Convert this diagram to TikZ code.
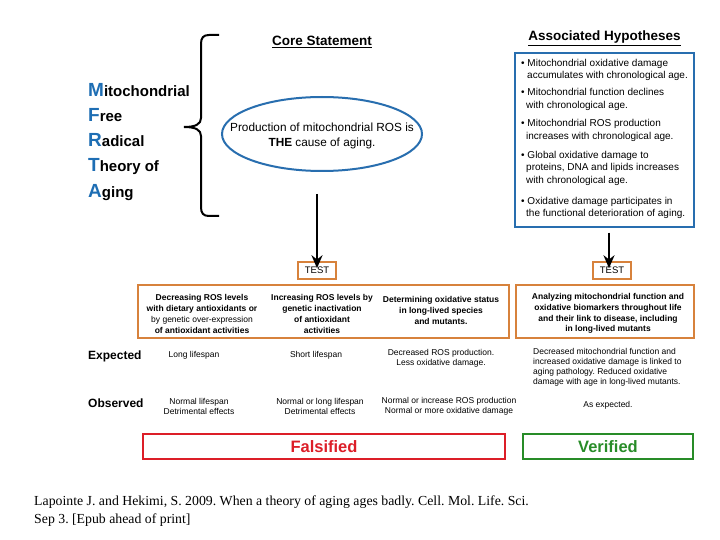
\documentclass[tikz,border=0pt]{standalone}
\usepackage{fontspec}
\setmainfont{Liberation Sans}
\newfontfamily\citefont{Liberation Serif}
\usetikzlibrary{arrows.meta,shapes.geometric}
\definecolor{mblue}{RGB}{30,110,180}
\definecolor{eblue}{RGB}{40,110,175}
\definecolor{orng}{RGB}{215,130,60}
\definecolor{fred}{RGB}{220,30,40}
\definecolor{vgreen}{RGB}{40,140,40}
\newcommand{\fsz}[2]{\fontsize{#1}{#2}\selectfont}
\newcommand{\bigM}[1]{\textcolor{mblue}{\fsz{19}{21}#1}}
\frenchspacing
\begin{document}
\begin{tikzpicture}[x=1pt,y=-1pt,
  mlbl/.style={inner sep=0pt,anchor=base west,font=\fsz{15}{17}\bfseries},
  head/.style={inner sep=0pt,anchor=base,font=\fsz{13.5}{16}\bfseries},
  hyp/.style={inner sep=0pt,anchor=base west,font=\fsz{10}{12}},
  obox/.style={draw=orng,line width=1.5pt,inner sep=0pt},
  coltext/.style={inner sep=0pt,align=center,font=\fsz{8.5}{10.7}\bfseries},
  restext/.style={inner sep=0pt,align=center,font=\fsz{8.5}{10.2}},
  rowlbl/.style={inner sep=0pt,anchor=west,font=\fsz{12}{13}\bfseries},
  arr/.style={-{Stealth[length=13pt,width=11pt]},line width=2.4pt},
  verdict/.style={line width=1.5pt,inner sep=0pt,font=\fsz{16.5}{18}\bfseries},
  cite/.style={inner sep=0pt,anchor=base west,font=\citefont\fsz{13.8}{15}}]
\useasboundingbox[fill=white] (0,0) rectangle (720,540);

% MFRTA acronym
\node[mlbl] (m1) at (88,97) {\bigM{M}itochondrial};
\node[mlbl] (m2) at (88,122) {\bigM{F}ree};
\node[mlbl] (m3) at (88,147) {\bigM{R}adical};
\node[mlbl] (m4) at (88,172) {\bigM{T}heory of};
\node[mlbl] (m5) at (88,197) {\bigM{A}ging};

% brace
\draw[line width=2pt] (219,35) -- (209,35) .. controls (203,35) and (201,38) .. (201,44)
  -- (201,118) .. controls (201,124) and (196,127) .. (184,127)
  .. controls (196,127) and (201,130) .. (201,136) -- (201,207)
  .. controls (201,213) and (203,216) .. (209,216) -- (219,216);

% core statement
\node[head] (core) at (322,46) {\underline{Core Statement}};
\node[draw=eblue,line width=2pt,ellipse,minimum width=200pt,minimum height=74pt] (ell) at (322,134) {};
\node[inner sep=0pt,align=center,font=\fsz{11.8}{15}] (celltext) at (322,135.5)
  {Production of mitochondrial ROS is\\\textbf{THE} cause of aging.};
\coordinate (a1) at (317,194);

% associated hypotheses
\node[head] (assoc) at (604.5,41) {\underline{Associated Hypotheses}};
\node[draw=eblue,line width=2pt,minimum width=179pt,minimum height=174pt,inner sep=0pt] (hyp) at (604,140.5) {};
\node[hyp] (h1) at (521,66.5) {\textbullet\ Mitochondrial oxidative damage};
\node[hyp] (h2) at (527,79) {accumulates with chronological age.};
\node[hyp] (h3) at (521,95.5) {\textbullet\ Mitochondrial function declines};
\node[hyp] (h4) at (526,108.5) {with chronological age.};
\node[hyp] (h5) at (521,126.5) {\textbullet\ Mitochondrial ROS production};
\node[hyp] (h6) at (526,139.5) {increases with chronological age.};
\node[hyp] (h7) at (521,159) {\textbullet\ Global oxidative damage to};
\node[hyp] (h8) at (526,171) {proteins, DNA and lipids increases};
\node[hyp] (h9) at (526,183.5) {with chronological age.};
\node[hyp] (h10) at (521,204.5) {\textbullet\ Oxidative damage participates in};
\node[hyp] (h11) at (526,217) {the functional deterioration of aging.};

% TEST boxes
\node[obox,minimum width=38pt,minimum height=17pt,font=\fsz{9.5}{10}] (test1) at (317,270.5) {TEST};
\node[obox,minimum width=38pt,minimum height=17pt,font=\fsz{9.5}{10}] (test2) at (612,270.5) {TEST};
\draw[arr] (a1) -- ([yshift=-7pt]test1.north);
\draw[arr,line width=2pt] ([yshift=-4pt]hyp.south -| test2.north) ++(-3,0) coordinate (a2) -- ([yshift=-7pt,xshift=-3pt]test2.north);

% test description boxes
\node[obox,minimum width=371pt,minimum height=53pt] (tbox) at (323.5,311.5) {};
\node[obox,minimum width=178pt,minimum height=53pt] (rbox) at (605,311.5) {};
\node[coltext] (c1) at (202,314) {Decreasing ROS levels\\with dietary antioxidants or\\{\mdseries by genetic over-expression}\\of antioxidant activities};
\node[coltext] (c2) at (322,314) {Increasing ROS levels by\\genetic inactivation\\of antioxidant\\activities};
\node[coltext] (c3) at (441,310.5) {Determining oxidative status\\in long-lived species\\and mutants.};
\node[coltext] (c4) at (608,313.5) {Analyzing mitochondrial function and\\oxidative biomarkers throughout life\\and their link to disease, including\\in long-lived mutants};

% rows
\node[rowlbl] (exp) at (88,356) {Expected};
\node[rowlbl] (obs) at (88,403) {Observed};
\node[restext] (e1) at (194,355) {Long lifespan};
\node[restext] (e2) at (316,355) {Short lifespan};
\node[restext] (e3) at (441,358.5) {Decreased ROS production.\\Less oxidative damage.};
\node[restext,align=left,anchor=west] (e4) at (533,367.5) {Decreased mitochondrial function and\\increased oxidative damage is linked to\\aging pathology. Reduced oxidative\\damage with age in long-lived mutants.};
\node[restext] (o1) at (199,406.5) {Normal lifespan\\Detrimental effects};
\node[restext] (o2) at (320,406.5) {Normal or long lifespan\\Detrimental effects};
\node[restext] (o3) at (449,406) {Normal or increase ROS production\\Normal or more oxidative damage};
\node[restext] (o4) at (608,405) {As expected.};

% verdicts
\node[verdict,draw=fred,text=fred,minimum width=362pt,minimum height=25pt] (fals) at (324,446.5) {Falsified};
\node[verdict,draw=vgreen,text=vgreen,minimum width=170pt,minimum height=25pt] (ver) at (608,446.5) {Verified};

% citation
\node[cite] (cit1) at (34,505) {Lapointe J. and Hekimi, S. 2009. When a theory of aging ages badly. Cell. Mol. Life. Sci.};
\node[cite] (cit2) at (34,523) {Sep 3. [Epub ahead of print]};
\end{tikzpicture}
\end{document}
